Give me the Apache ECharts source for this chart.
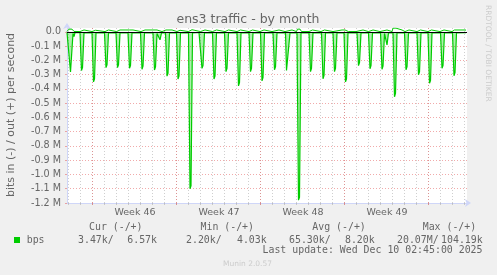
<!DOCTYPE html>
<html>
<head>
<meta charset="utf-8">
<script src="https://cdn.jsdelivr.net/npm/echarts@6/dist/echarts.min.js"></script>
<style>html,body{margin:0;padding:0;background:#f0f0f0;}#c{width:497px;height:275px;}</style>
</head>
<body>
<div id="c"></div>
<script>
// ---- data (hours from graph start, values in M bits/s) ----
const yTicks = [-1.2, -1.1, -1.0, -0.9, -0.8, -0.7, -0.6, -0.5, -0.4, -0.3, -0.2, -0.1, 0.0];
const weekHours = [50, 218, 386, 554, 722];
const weekLabelHours = [136, 304, 472, 640];
const weekLabels = ['Week 46', 'Week 47', 'Week 48', 'Week 49'];

const inTraffic = [
  [0,-0.004],
  [4,-0.005],[7,-0.28],[9,-0.27],[12,-0.01],[14,-0.033],[16,-0.005],
  [26,-0.005],[29,-0.27],[31,-0.25],[34,-0.006],
  [50,-0.005],[53,-0.35],[55,-0.33],[58,-0.006],
  [75,-0.005],[78,-0.25],[80,-0.23],[83,-0.006],
  [98,-0.005],[101,-0.25],[103,-0.23],[106,-0.006],
  [122,-0.005],[125,-0.255],[127,-0.235],[130,-0.006],
  [147,-0.005],[150,-0.262],[152,-0.24],[155,-0.006],
  [172,-0.005],[175,-0.267],[177,-0.245],[180,-0.01],[186,-0.055],[189,-0.006],
  [197,-0.005],[200,-0.31],[202,-0.29],[205,-0.006],
  [219,-0.005],[222,-0.33],[224,-0.31],[227,-0.006],
  [243,-0.005],[246,-1.10],[248,-1.08],[251,-0.006],
  [258,-0.004],[262,-0.015],[264,-0.004],
  [267,-0.005],[270,-0.255],[272,-0.235],[275,-0.006],
  [291,-0.005],[294,-0.33],[296,-0.31],[299,-0.006],
  [315,-0.005],[318,-0.278],[320,-0.255],[323,-0.006],
  [340,-0.005],[343,-0.378],[345,-0.355],[348,-0.006],
  [364,-0.005],[367,-0.278],[369,-0.255],[372,-0.006],
  [387,-0.005],[390,-0.343],[392,-0.32],[395,-0.006],
  [412,-0.005],[415,-0.265],[417,-0.245],[420,-0.006],
  [437,-0.005],[439,-0.27],[443,-0.27],[446,-0.006],
  [460,-0.005],[463,-1.18],[465,-1.16],[468,-0.006],
  [484,-0.005],[487,-0.278],[489,-0.255],[492,-0.006],
  [509,-0.005],[512,-0.328],[514,-0.305],[517,-0.006],
  [532,-0.005],[535,-0.278],[537,-0.255],[540,-0.006],
  [554,-0.005],[557,-0.35],[559,-0.33],[562,-0.006],
  [580,-0.005],[583,-0.236],[585,-0.215],[588,-0.006],
  [603,-0.005],[606,-0.258],[608,-0.235],[611,-0.006],
  [627,-0.005],[630,-0.262],[632,-0.24],[635,-0.01],[640,-0.09],[643,-0.006],
  [652,-0.005],[655,-0.455],[657,-0.43],[660,-0.006],
  [675,-0.005],[678,-0.265],[680,-0.245],[683,-0.006],
  [700,-0.005],[703,-0.30],[705,-0.28],[708,-0.006],
  [722,-0.005],[725,-0.36],[727,-0.34],[730,-0.006],
  [747,-0.005],[750,-0.255],[752,-0.235],[755,-0.006],
  [771,-0.005],[774,-0.307],[776,-0.285],[779,-0.006],
  [798,-0.004]
];

const outTraffic = [
  [0,0.004],[4,0.02],[10,0.02],[14,0.004],
  [26,0.003],[28,0.014],[34,0.014],[37,0.003],
  [50,0.003],[52,0.012],[57,0.012],[60,0.003],
  [76,0.003],[78,0.014],[83,0.014],[86,0.003],
  [99,0.003],[101,0.014],[106,0.014],[110,0.014],[120,0.014],[123,0.003],
  [125,0.014],[132,0.014],[135,0.003],
  [148,0.003],[150,0.014],[156,0.014],[159,0.003],
  [160,0.003],[162,0.014],[172,0.014],[180,0.014],[183,0.003],
  [190,0.003],[193,0.014],[198,0.014],[210,0.014],[213,0.003],
  [220,0.003],[222,0.012],[226,0.012],[229,0.003],
  [243,0.003],[245,0.016],[250,0.016],[253,0.003],
  [267,0.003],[269,0.014],[276,0.014],[279,0.003],
  [291,0.003],[293,0.014],[299,0.014],[302,0.003],
  [316,0.003],[318,0.014],[323,0.014],[326,0.003],
  [340,0.003],[342,0.014],[347,0.014],[350,0.003],
  [364,0.003],[366,0.014],[371,0.014],[374,0.003],
  [386,0.003],[388,0.014],[394,0.014],[397,0.003],
  [410,0.003],[412,0.014],[424,0.014],[427,0.003],
  [436,0.003],[438,0.014],[450,0.014],[453,0.003],
  [459,0.003],[461,0.02],[466,0.02],[469,0.003],
  [484,0.003],[486,0.014],[491,0.014],[494,0.003],
  [508,0.003],[510,0.014],[515,0.014],[518,0.003],
  [532,0.003],[534,0.014],[550,0.014],[556,0.014],[560,0.014],[563,0.003],
  [578,0.003],[580,0.014],[592,0.014],[595,0.003],
  [603,0.003],[605,0.014],[612,0.014],[615,0.003],
  [626,0.003],[628,0.014],[640,0.014],[643,0.003],
  [650,0.003],[652,0.027],[658,0.027],[662,0.014],[670,0.014],[673,0.003],
  [676,0.003],[678,0.014],[684,0.014],[687,0.003],
  [700,0.003],[702,0.014],[707,0.014],[710,0.003],
  [722,0.003],[724,0.014],[729,0.014],[732,0.003],
  [746,0.003],[748,0.014],[754,0.014],[757,0.003],
  [770,0.003],[772,0.014],[775,0.014],[778,0.014],[796,0.014],[798,0.013]
];

const statHeaders = ['Cur (-/+)', 'Min (-/+)', 'Avg (-/+)', 'Max (-/+)'];
const statIn = ['3.47k', '2.20k', '65.30k', '20.07M'];
const statOut = ['6.57k', '4.03k', '8.20k', '104.19k'];
const seriesName = 'bps';
const titleText = 'ens3 traffic - by month';
const yAxisTitle = 'bits in (-) / out (+) per second';
const lastUpdate = 'Last update: Wed Dec 10 02:45:00 2025';
const sideText = 'RRDTOOL / TOBI OETIKER';
const footerText = 'Munin 2.0.57';

// ---- layout ----
const dayHours = [];
for (let h = 2; h < 800; h += 24) dayHours.push(h);

const FONT_COLOR = '#666666';
const RED_GRID = 'rgba(230,100,100,0.55)';
const GREY_GRID = 'rgba(160,160,160,0.5)';
const AXIS_COLOR = '#CFD6F8';
const SANS = '"DejaVu Sans"';
const MONO = '"DejaVu Sans Mono"';

const headerX = [89, 200.5, 312.3, 422.7];
const inX = [78, 186, 289, 397];
const outX = [157, 266.7, 374.7, 482.7];

const graphics = [];
function txt(text, x, y, font, fill, align, rot) {
  graphics.push({
    type: 'text', x: x, y: y, rotation: rot || 0, silent: true,
    style: { text: text, x: 0, y: 0, font: font, fill: fill,
      align: align, textAlign: align, verticalAlign: 'middle', textVerticalAlign: 'middle' }
  });
}
txt(titleText, 248, 20, '12.5px ' + SANS, FONT_COLOR, 'center');
txt(yAxisTitle, 11.2, 115, '11px ' + SANS, FONT_COLOR, 'center', Math.PI / 2);
txt(sideText, 487.7, 53.3, '7.5px ' + SANS, '#cccccc', 'center', -Math.PI / 2);
statHeaders.forEach((t, i) => txt(t, headerX[i], 227.3, '9.9px ' + MONO, FONT_COLOR, 'left'));
txt(seriesName, 26.7, 240.5, '9.9px ' + MONO, FONT_COLOR, 'left');
statIn.forEach((t, i) => txt(t + '/', inX[i], 240.5, '9.9px ' + MONO, FONT_COLOR, 'left'));
statOut.forEach((t, i) => txt(t, outX[i], 240.5, '9.9px ' + MONO, FONT_COLOR, 'right'));
txt(lastUpdate, 482.5, 250.8, '9.9px ' + MONO, FONT_COLOR, 'right');
txt(footerText, 247.5, 263.7, '7.5px ' + SANS, '#cccccc', 'center');
graphics.push({ type: 'rect', shape: { x: 14, y: 237, width: 6, height: 6 }, style: { fill: '#00cc00' }, silent: true });

const chart = echarts.init(document.getElementById('c'), null, { renderer: 'canvas' });
chart.setOption({
  animation: false,
  backgroundColor: '#f0f0f0',
  grid: { left: 67, top: 28, width: 400, height: 175, show: true, backgroundColor: '#ffffff', borderWidth: 0, containLabel: false },
  xAxis: [
    {
      type: 'value', min: 0, max: 800, position: 'bottom',
      axisLine: { show: true, onZero: false, lineStyle: { color: AXIS_COLOR, width: 1 }, symbol: ['none', 'arrow'], symbolSize: [6, 6], symbolOffset: [0, 4] },
      axisTick: { show: true, customValues: dayHours, length: 2, lineStyle: { color: GREY_GRID } },
      axisLabel: { show: true, customValues: weekLabelHours, margin: 5, fontSize: 9.5, fontFamily: 'DejaVu Sans', color: FONT_COLOR,
        formatter: v => weekLabels[weekLabelHours.indexOf(v)] || '' },
      splitLine: { show: true, lineStyle: { color: GREY_GRID, type: [1, 2], width: 1 } }
    },
    {
      type: 'value', min: 0, max: 800, position: 'bottom',
      axisLine: { show: false, onZero: false },
      axisTick: { show: true, customValues: weekHours, length: 2, lineStyle: { color: RED_GRID } },
      axisLabel: { show: false },
      splitLine: { show: true, lineStyle: { color: RED_GRID, type: [1, 2], width: 1 } }
    }
  ],
  yAxis: {
    type: 'value', min: -1.2, max: 0.028,
    axisLine: { show: true, onZero: false, lineStyle: { color: AXIS_COLOR, width: 1 }, symbol: ['none', 'arrow'], symbolSize: [6, 6], symbolOffset: [0, 5] },
    axisTick: { show: true, customValues: yTicks, length: 2, lineStyle: { color: RED_GRID } },
    axisLabel: { show: true, customValues: yTicks, margin: 6, fontSize: 9.6, fontFamily: 'DejaVu Sans', color: FONT_COLOR,
      formatter: v => Math.abs(v) < 1e-9 ? '0.0' : v.toFixed(1) + ' M' },
    splitLine: { show: true, lineStyle: { color: RED_GRID, type: [1, 2], width: 1 } }
  },
  series: [
    {
      name: seriesName, type: 'line', xAxisIndex: 0, data: inTraffic, showSymbol: false, symbol: 'none',
      lineStyle: { color: '#00cc00', width: 1.2 },
      areaStyle: { color: 'rgba(0,204,0,0.45)' },
      z: 3
    },
    {
      name: seriesName, type: 'line', xAxisIndex: 0, data: outTraffic, showSymbol: false, symbol: 'none',
      lineStyle: { color: '#00cc00', width: 1 },
      z: 3,
      markLine: { silent: true, symbol: 'none', label: { show: false },
        lineStyle: { color: '#000000', width: 1, type: 'solid' }, data: [{ yAxis: 0 }] }
    }
  ],
  graphic: graphics
});
</script>
</body>
</html>
